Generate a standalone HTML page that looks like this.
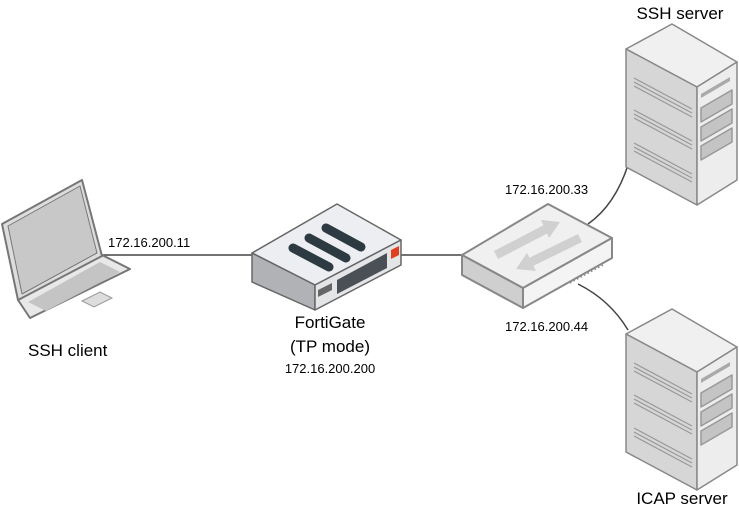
<!DOCTYPE html>
<html><head><meta charset="utf-8"><style>
html,body{margin:0;padding:0;background:#fff;}
svg{display:block;font-family:"Liberation Sans",Arial,sans-serif;}
</style></head><body>
<svg width="739" height="512" viewBox="0 0 739 512" xmlns="http://www.w3.org/2000/svg">
<g stroke="#444" stroke-width="1.5" fill="none">
<line x1="100" y1="255" x2="255" y2="255"/>
<line x1="398" y1="255" x2="465" y2="255"/>
<path d="M588,224 Q615,205 628,165"/>
<path d="M578,284 Q610,300 628,330"/>
</g>
<g stroke="#777" stroke-width="2" stroke-linejoin="round">
<polygon points="18,300 100,254 130,269 30,318" fill="#e8e8e8"/>
<polygon points="2,224 82,180 102,256 18,300" fill="#ddd"/>
<polygon points="8,226 80,186 97,253 22,294" fill="#c8c8c8" stroke-width="1"/>
</g>
<polygon points="28,302 100,262 120,272 46,311" fill="#c4c4c4"/>
<polygon points="82,301 100,292 112,298 94,307" fill="#ddd" stroke="#999"/>
<g stroke="#666" stroke-width="1.5" stroke-linejoin="round">
<polygon points="252,253 337,204 401,240 315,285" fill="#eceef1"/>
<polygon points="252,253 315,285 315,310 252,282" fill="#b0b2b5"/>
<polygon points="315,285 401,240 401,265 315,310" fill="#e4e5e7"/>
</g>
<g stroke="#2d3a42" stroke-width="9" stroke-linecap="round">
<line x1="293" y1="248" x2="329" y2="267"/>
<line x1="309" y1="238" x2="346" y2="258"/>
<line x1="326" y1="228" x2="361" y2="247"/>
</g>
<polygon points="337,280 387,253 387,268 337,294" fill="#4a5056"/>
<polygon points="318,290 332,283 332,290 318,297" fill="#666"/>
<polygon points="391,250 399,246 399,255 391,259" fill="#e04020"/>
<g stroke="#888" stroke-width="2" stroke-linejoin="round">
<polygon points="462,255 548,204 612,238 523,288" fill="#f0f0f0"/>
<polygon points="462,255 523,288 523,308 462,275" fill="#cfcfcf"/>
<polygon points="523,288 612,238 612,258 523,308" fill="#f4f4f4"/>
</g>
<g stroke="#d0d0d0" stroke-width="9">
<line x1="496" y1="255" x2="546" y2="229"/>
<line x1="580" y1="238" x2="531" y2="262"/>
</g>
<g fill="#d0d0d0">
<polygon points="549,238 541,220 560,222"/>
<polygon points="536,271 527,253 516,269"/>
</g>
<line x1="570" y1="283" x2="605" y2="264" stroke="#888" stroke-width="1.5" stroke-dasharray="1.5,2.5"/>
<g id="srv" stroke="#888" stroke-width="1.5" stroke-linejoin="round">
<polygon points="626,49 672,24 737,62 697,87" fill="#f0f0f0"/>
<polygon points="626,49 697,87 697,205 626,167" fill="#d6d6d6"/>
<polygon points="697,87 737,62 737,180 697,205" fill="#ededed"/>
<g stroke="#999" fill="none" stroke-width="1.2">
<path d="M634,78 l58,31 M634,82 l58,31 M634,86 l58,31"/>
<path d="M634,110 l58,31 M634,114 l58,31 M634,118 l58,31"/>
<path d="M634,143 l58,31 M634,147 l58,31 M634,151 l58,31"/>
</g>
<polygon points="701,94 730,77 730,81 701,98" fill="#aaa" stroke="none"/>
<polygon points="701,108 732,90 732,104 701,122" fill="#c4c4c4" stroke="#999"/>
<polygon points="701,127 732,109 732,123 701,141" fill="#c4c4c4" stroke="#999"/>
<polygon points="701,146 732,128 732,142 701,160" fill="#c4c4c4" stroke="#999"/>
</g>
<use href="#srv" transform="translate(0,285)"/>
<g fill="#000">
<text x="108" y="247" font-size="13">172.16.200.11</text>
<text x="330" y="328" font-size="17" text-anchor="middle">FortiGate</text>
<text x="330" y="352" font-size="17" text-anchor="middle">(TP mode)</text>
<text x="330" y="373" font-size="13" text-anchor="middle">172.16.200.200</text>
<text x="28" y="356" font-size="17">SSH client</text>
<text x="505" y="194" font-size="13">172.16.200.33</text>
<text x="505" y="331" font-size="13">172.16.200.44</text>
<text x="680" y="19" font-size="17" text-anchor="middle">SSH server</text>
<text x="682" y="504" font-size="17" text-anchor="middle">ICAP server</text>
</g>
</svg>
</body></html>
